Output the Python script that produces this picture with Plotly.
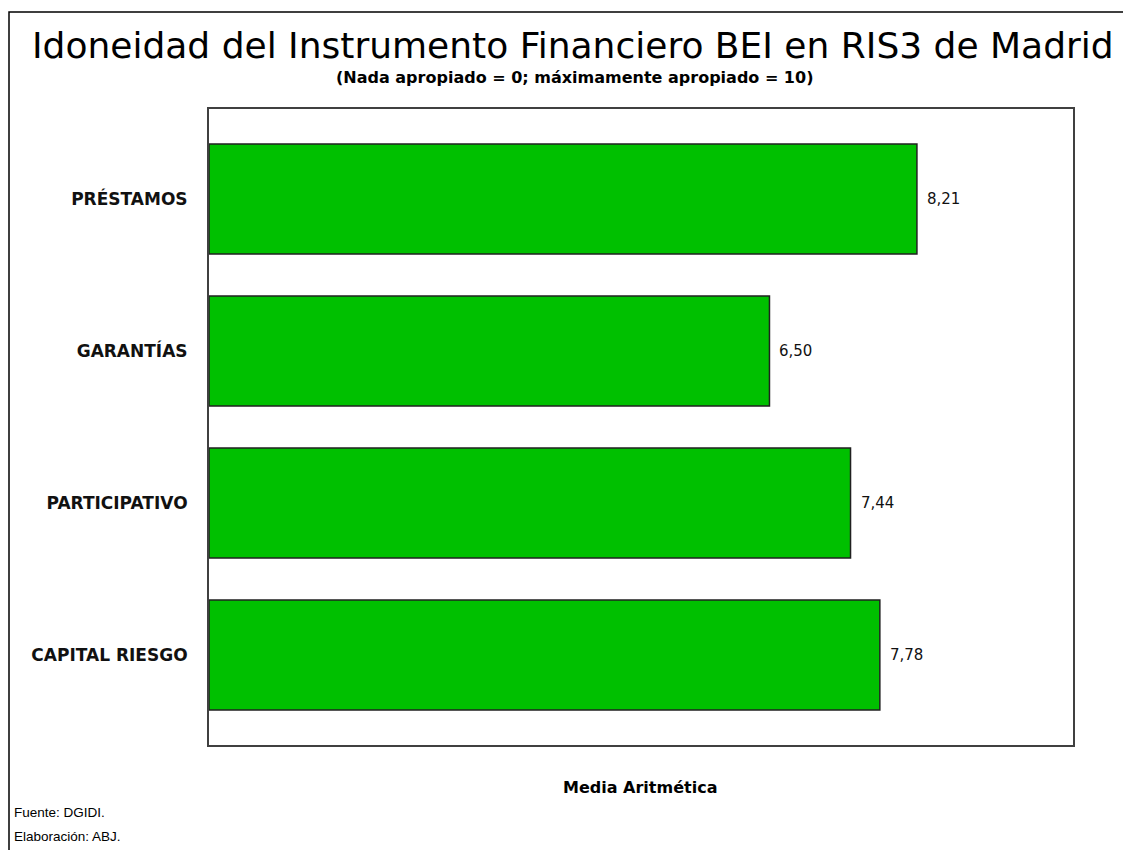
import plotly.graph_objects as go

categories = ["PRÉSTAMOS", "GARANTÍAS", "PARTICIPATIVO", "CAPITAL RIESGO"]
values = [8.21, 6.50, 7.44, 7.78]
value_labels = ["8,21", "6,50", "7,44", "7,78"]

title_text = "Idoneidad del Instrumento Financiero BEI en RIS3 de Madrid"
subtitle_text = "(Nada apropiado = 0; máximamente apropiado = 10)"
xaxis_title = "Media Aritmética"
source_lines = ["Fuente: DGIDI.", "Elaboración: ABJ."]

OFF = 8  # browser default body margin
W, H = 1131 - OFF, 850 - OFF
# plot area in page pixel coordinates
PL, PR, PT, PB = 209, 1073, 109, 745
pw, ph = PR - PL, PB - PT

def px(x):
    return (x - PL) / pw

def py(y):
    return (PB - y) / ph

fig = go.Figure()
fig.add_trace(go.Bar(
    x=values, y=categories, orientation="h",
    width=0.724,
    marker=dict(color="#00C000", line=dict(color="#202020", width=1.5)),
    hoverinfo="skip",
))

for v, c, t in zip(values, categories, value_labels):
    fig.add_annotation(x=v, y=c, xref="x", yref="y", text=t, showarrow=False,
                       xanchor="left", yanchor="middle", xshift=8,
                       font=dict(family="DejaVu Sans", size=15, color="#111111"))

fig.add_annotation(x=px(573), y=py(45), xref="paper", yref="paper", text=title_text,
                   showarrow=False, xanchor="center", yanchor="middle",
                   font=dict(family="DejaVu Sans", size=36, color="#000000"))
fig.add_annotation(x=px(574), y=py(78), xref="paper", yref="paper", text="<b>" + subtitle_text + "</b>",
                   showarrow=False, xanchor="center", yanchor="middle",
                   font=dict(family="DejaVu Sans", size=16, color="#000000"))
fig.add_annotation(x=px(640), y=py(787), xref="paper", yref="paper", text="<b>" + xaxis_title + "</b>",
                   showarrow=False, xanchor="center", yanchor="middle",
                   font=dict(family="DejaVu Sans", size=16, color="#000000"))
for i, line in enumerate(source_lines):
    fig.add_annotation(x=px(12), y=py(812 + 24 * i), xref="paper", yref="paper", text=line,
                       showarrow=False, xanchor="left", yanchor="middle",
                       font=dict(family="Liberation Sans, Arial", size=13.5, color="#000000"))

fig.add_shape(type="rect", xref="paper", yref="paper",
              x0=px(9), y0=py(12), x1=px(1140), y1=py(860),
              line=dict(color="#000000", width=1.5), fillcolor="rgba(0,0,0,0)", layer="below")

fig.update_layout(
    width=W, height=H,
    margin=dict(l=PL - OFF, r=W - (PR - OFF), t=PT - OFF, b=H - (PB - OFF), pad=0),
    paper_bgcolor="white", plot_bgcolor="white",
    showlegend=False,
    xaxis=dict(range=[0, 10.02], showgrid=False, zeroline=False, showticklabels=False,
               ticks="", showline=True, mirror=True, linecolor="#404040", linewidth=2),
    yaxis=dict(type="category", categoryorder="array", categoryarray=categories,
               range=[3.592, -0.592], showgrid=False, zeroline=False, ticks="",
               ticklabelstandoff=16, showline=True, mirror=True, linecolor="#404040", linewidth=2,
               tickfont=dict(family="DejaVu Sans", size=17, color="#111111", weight="bold")),
)

fig.write_html("out.html")
